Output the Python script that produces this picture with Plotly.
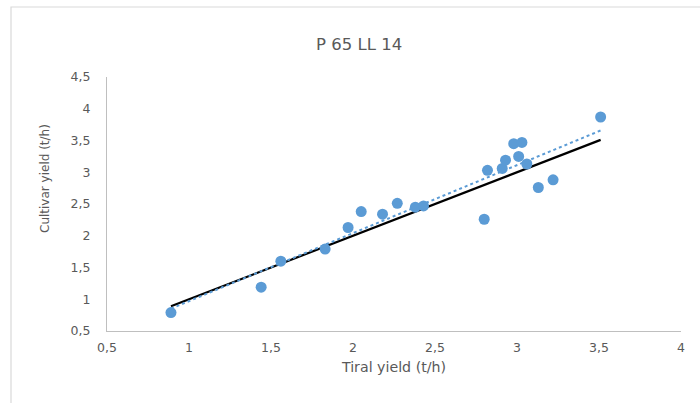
import numpy as np
import plotly.graph_objects as go

# Paired yields (t/h): tiral vs cultivar
tiral_yield = [0.89, 1.44, 1.56, 1.83, 1.97, 2.05, 2.18, 2.27, 2.38, 2.43,
               2.80, 2.82, 2.91, 2.93, 2.98, 3.01, 3.03, 3.06, 3.13, 3.22, 3.51]
cultivar_yield = [0.79, 1.19, 1.60, 1.79, 2.13, 2.38, 2.34, 2.51, 2.45, 2.47,
                  2.26, 3.03, 3.06, 3.19, 3.45, 3.25, 3.47, 3.13, 2.76, 2.88, 3.87]

tick_vals = [0.5, 1, 1.5, 2, 2.5, 3, 3.5, 4, 4.5]
tick_text = ["0,5", "1", "1,5", "2", "2,5", "3", "3,5", "4", "4,5"]

x = np.array(tiral_yield)
y = np.array(cultivar_yield)
slope, intercept = np.polyfit(x, y, 1)
x_span = np.array([x.min(), x.max()])

blue = "#5B9BD5"
grey_text = "#595959"
font_family = "DejaVu Sans, Arial, sans-serif"

fig = go.Figure()

# 1:1 reference line over the data range
fig.add_trace(go.Scatter(x=x_span, y=x_span, mode="lines",
                         line=dict(color="black", width=2.2),
                         hoverinfo="skip", showlegend=False))

# Linear trendline
fig.add_trace(go.Scatter(x=x_span, y=slope * x_span + intercept, mode="lines",
                         line=dict(color=blue, width=2, dash="dot"),
                         hoverinfo="skip", showlegend=False))

fig.add_trace(go.Scatter(x=x, y=y, mode="markers",
                         marker=dict(color=blue, size=11, line=dict(width=0)),
                         showlegend=False))

margin_l, margin_r, margin_t, margin_b = 107, 19, 77, 72
plot_w = 700 - margin_l - margin_r
plot_h = 403 - margin_t - margin_b

# Outer chart-area border (left and top edges visible)
frame_x0 = (11 - margin_l) / plot_w
frame_y1 = 1 + (margin_t - 7) / plot_h
fig.add_shape(type="rect", xref="paper", yref="paper",
              x0=frame_x0, x1=1.5, y0=-1.0, y1=frame_y1,
              line=dict(color="#d9d9d9", width=1.2), layer="below")

# Vertical axis title, placed as a rotated annotation
fig.add_annotation(text="Cultivar yield (t/h)", textangle=-90,
                   xref="paper", yref="paper",
                   x=(45 - margin_l) / plot_w, y=1 - (179 - margin_t) / plot_h,
                   xanchor="center", yanchor="middle", showarrow=False,
                   font=dict(size=12, color=grey_text))

fig.update_layout(
    width=700, height=403,
    margin=dict(l=margin_l, r=margin_r, t=margin_t, b=margin_b),
    paper_bgcolor="white", plot_bgcolor="white",
    font=dict(family=font_family, color=grey_text, size=12.5),
    title=dict(text="P 65 LL 14", x=0.513, xanchor="center", y=0.89, yanchor="middle",
               font=dict(size=16.5, color=grey_text)),
    xaxis=dict(range=[0.5, 4], tickvals=tick_vals[:-1], ticktext=tick_text[:-1],
               showgrid=False, zeroline=False, showline=True, linecolor="#bfbfbf",
               linewidth=1.2, ticks="", ticklabelstandoff=5,
               tickfont=dict(size=12.5),
               title=dict(text="Tiral yield (t/h)", font=dict(size=14.2, color=grey_text),
                          standoff=7)),
    yaxis=dict(range=[0.5, 4.5], tickvals=tick_vals, ticktext=tick_text,
               showgrid=False, zeroline=False, showline=True, linecolor="#bfbfbf",
               linewidth=1.2, ticks="", ticklabelstandoff=13,
               tickfont=dict(size=12.5)),
)

fig.write_html("out.html")
